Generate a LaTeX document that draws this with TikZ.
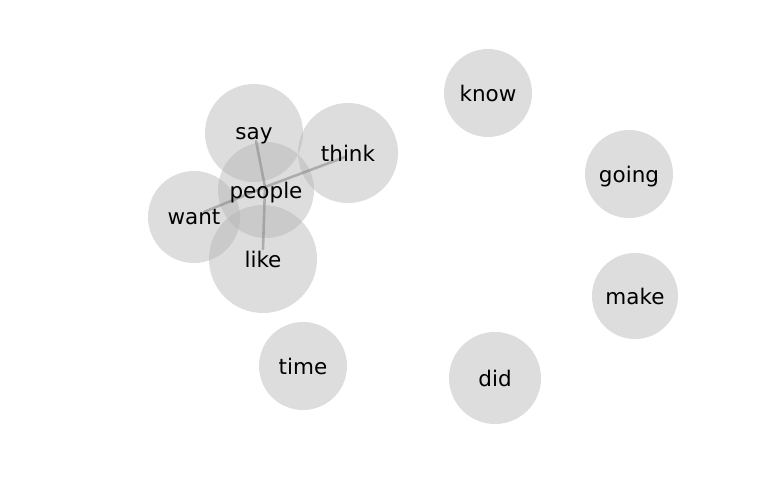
\documentclass[tikz,border=0pt]{standalone}
\usepackage{fontspec}
\setmainfont{DejaVu Sans}
\tikzset{
  wordcloud/.style={x=1pt,y=-1pt},
  wordblob/.style={circle,fill=black!30,fill opacity=.44,inner sep=0pt,minimum size=#1},
  wordlabel/.style={font=\fontsize{21.5}{24}\selectfont,text=black,text depth=0pt,inner sep=0pt},
  wordlink/.style={draw=black!45,line width=2.6pt,opacity=.6,line cap=round}
}
\newcommand{\wordnode}[4]{% name, x, y, diameter
  \node[wordblob=#4pt] (#1) at (#2,#3) {};
}
\begin{document}
\begin{tikzpicture}[wordcloud]
  \useasboundingbox (0,0) rectangle (768,500);
  % blobs
  \wordnode{want}{194}{217}{92}
  \wordnode{say}{254}{133}{98}
  \wordnode{think}{348}{153}{100}
  \wordnode{people}{266}{190}{96}
  \wordnode{like}{263}{259}{108}
  \wordnode{know}{488}{93}{88}
  \wordnode{going}{629}{174}{88}
  \wordnode{make}{635}{296}{86}
  \wordnode{time}{303}{366}{88}
  \wordnode{did}{495}{378}{92}
  % links
  \coordinate (hub) at (265,187);
  \draw[wordlink] (hub) -- (256,141);
  \draw[wordlink] (hub) -- (263,249);
  \draw[wordlink] (hub) -- (345,157);
  \draw[wordlink] (hub) -- (204,212);
  % labels
  \foreach \w in {want,say,think,people,like,know,going,make,time,did}
    \node[wordlabel] at (\w) {\w};
\end{tikzpicture}
\end{document}
